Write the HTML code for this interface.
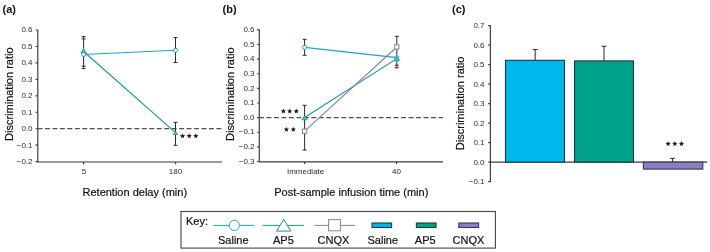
<!DOCTYPE html>
<html><head><meta charset="utf-8">
<style>
html,body{margin:0;padding:0;background:#fff;width:710px;height:252px;overflow:hidden}
svg{display:block;will-change:transform}
text{font-family:"Liberation Sans",sans-serif;fill:#111}
.t{font-size:8px}
.ttl{font-size:11px;stroke:#111;stroke-width:0.2px}
.t text{fill:#2a2a2a}
.pl{font-size:11px;font-weight:bold}
.ax{stroke:#3a3a3a;stroke-width:1.15;fill:none}
.eb{stroke:#2a2a2a;stroke-width:1;fill:none}
.dash{stroke:#505050;stroke-width:1.3;fill:none}
</style></head>
<body>
<svg width="710" height="252" viewBox="0 0 710 252">
<defs><path id="st" d="M0,-2.75L0.72,-0.99L2.615,-0.85L1.18,0.38L1.616,2.225L0,1.24L-1.616,2.225L-1.18,0.38L-2.615,-0.85L-0.72,-0.99Z" fill="#1a1a1a"/></defs>

<text class="pl" x="2.5" y="12.8">(a)</text>
<text class="ttl" transform="translate(12.6,94.2) rotate(-90)" text-anchor="middle">Discrimination ratio</text>
<path class="ax" d="M37.8 29.5V162.3M35.6 30H37.8M35.6 46.45H37.8M35.6 62.9H37.8M35.6 79.35H37.8M35.6 95.8H37.8M35.6 112.25H37.8M35.6 128.7H37.8M35.6 145.15H37.8M35.6 161.6H37.8"/>
<g class="t" text-anchor="end">
<text x="32.5" y="32.4">0.6</text>
<text x="32.5" y="48.85">0.5</text>
<text x="32.5" y="65.3">0.4</text>
<text x="32.5" y="81.75">0.3</text>
<text x="32.5" y="98.2">0.2</text>
<text x="32.5" y="114.65">0.1</text>
<text x="32.5" y="131.1">0.0</text>
<text x="32.5" y="147.55">−0.1</text>
<text x="32.5" y="164">−0.2</text>
</g>
<path class="ax" d="M37.3 162H222M83.6 162V164.2M175.6 162V164.2"/>
<path class="dash" d="M37.6 128.7H222" stroke-dasharray="4.9 2.55"/>
<g class="t" text-anchor="middle"><text x="84" y="173.5">5</text><text x="175.5" y="173.5">180</text></g>
<text class="ttl" x="134.8" y="195.7" text-anchor="middle">Retention delay (min)</text>
<path class="eb" d="M83.6 36.6V68.6M81.6 36.6H85.6M81.6 38.9H85.6M81.6 66.2H85.6M81.6 68.6H85.6"/>
<path class="eb" d="M175.5 37.6V62.6M173.5 37.6H177.5M173.5 62.6H177.5"/>
<path class="eb" d="M175.5 122.3V145.3M173.5 122.3H177.5M173.5 145.3H177.5"/>
<line x1="83.6" y1="54.5" x2="175.5" y2="50.2" stroke="#1fa0d0" stroke-width="1.1"/>
<line x1="83.6" y1="51.5" x2="175.5" y2="132.6" stroke="#139a88" stroke-width="1.1"/>
<polygon points="83.6,48.7 86.3,53.1 80.9,53.1" fill="#48c2b8" stroke="#139a88" stroke-width="0.8"/>
<circle cx="83.6" cy="54.5" r="2" fill="#fff" stroke="#1fa0d0" stroke-width="1"/>
<circle cx="175.5" cy="50.2" r="2" fill="#fff" stroke="#1fa0d0" stroke-width="1"/>
<polygon points="175.5,131.1 177.7,134.7 173.3,134.7" fill="#48c2b8" stroke="#139a88" stroke-width="0.8"/>
<use href="#st" x="182.5" y="136.06"/>
<use href="#st" x="189.2" y="136.06"/>
<use href="#st" x="195.8" y="136.06"/>
<text class="pl" x="222.5" y="12.8">(b)</text>
<text class="ttl" transform="translate(234.4,94.2) rotate(-90)" text-anchor="middle">Discrimination ratio</text>
<path class="ax" d="M259.3 29.32V162.1M257.1 29.82H259.3M257.1 44.45H259.3M257.1 59.08H259.3M257.1 73.71H259.3M257.1 88.34H259.3M257.1 102.97H259.3M257.1 117.6H259.3M257.1 132.23H259.3M257.1 146.86H259.3M257.1 161.49H259.3"/>
<g class="t" text-anchor="end">
<text x="254.5" y="32.02">0.6</text>
<text x="254.5" y="46.65">0.5</text>
<text x="254.5" y="61.28">0.4</text>
<text x="254.5" y="75.91">0.3</text>
<text x="254.5" y="90.54">0.2</text>
<text x="254.5" y="105.17">0.1</text>
<text x="254.5" y="119.8">0.0</text>
<text x="254.5" y="134.43">−0.1</text>
<text x="254.5" y="149.06">−0.2</text>
<text x="254.5" y="163.69">−0.3</text>
</g>
<path class="ax" d="M258.8 161.8H443M304.6 161.8V164M396.6 161.8V164"/>
<path class="dash" d="M259 117.6H443" stroke-dasharray="4.9 2.58"/>
<g class="t" text-anchor="middle"><text x="305.6" y="173.5">Immediate</text><text x="396.4" y="173.5">40</text></g>
<text class="ttl" x="351.3" y="195.7" text-anchor="middle">Post-sample infusion time (min)</text>
<path class="eb" d="M304.6 105.3V150M302.6 105.3H306.6M302.6 150H306.6"/>
<path class="eb" d="M304.6 39.3V55.3M302.6 39.3H306.6M302.6 55.3H306.6"/>
<path class="eb" d="M396.8 36.3V67.8M394.8 36.3H398.8M394.8 65.2H398.8M394.8 67.8H398.8"/>
<line x1="304.6" y1="47.4" x2="396.8" y2="57.6" stroke="#1fa0d0" stroke-width="1.1"/>
<line x1="304.6" y1="117.5" x2="396.8" y2="58.6" stroke="#139a88" stroke-width="1.1"/>
<line x1="304.6" y1="131.2" x2="396.8" y2="47" stroke="#857bb5" stroke-width="1.1"/>
<circle cx="304.6" cy="47.4" r="2" fill="#fff" stroke="#1fa0d0" stroke-width="1"/>
<circle cx="396.8" cy="57.6" r="2" fill="#fff" stroke="#1fa0d0" stroke-width="1"/>
<polygon points="304.6,115.8 307.3,119.8 301.9,119.8" fill="#48c2b8" stroke="#139a88" stroke-width="0.8"/>
<polygon points="396.8,56.2 399.6,60.8 394,60.8" fill="#3bbcd0" stroke="#139a88" stroke-width="0.8"/>
<rect x="302.45" y="129.05" width="4.3" height="4.3" fill="#fff" stroke="#857bb5" stroke-width="1"/>
<rect x="394.65" y="44.85" width="4.3" height="4.3" fill="#fff" stroke="#857bb5" stroke-width="1"/>
<use href="#st" x="283.4" y="111.36"/>
<use href="#st" x="289.7" y="111.36"/>
<use href="#st" x="296.3" y="111.36"/>
<use href="#st" x="286.4" y="129.46"/>
<use href="#st" x="293.3" y="129.46"/>
<text class="pl" x="452" y="12.8">(c)</text>
<text class="ttl" transform="translate(463.6,103.4) rotate(-90)" text-anchor="middle">Discrimination ratio</text>
<path class="ax" d="M490.4 25.1V182.1M488.2 25.6H490.4M488.2 45.1H490.4M488.2 64.6H490.4M488.2 84.1H490.4M488.2 103.6H490.4M488.2 123.1H490.4M488.2 142.6H490.4M488.2 162.1H490.4M488.2 181.6H490.4"/>
<g class="t" text-anchor="end">
<text x="484.5" y="28.2">0.7</text>
<text x="484.5" y="47.7">0.6</text>
<text x="484.5" y="67.2">0.5</text>
<text x="484.5" y="86.7">0.4</text>
<text x="484.5" y="106.2">0.3</text>
<text x="484.5" y="125.7">0.2</text>
<text x="484.5" y="145.2">0.1</text>
<text x="484.5" y="164.7">0.0</text>
<text x="484.5" y="184.2">−0.1</text>
</g>
<path class="ax" d="M490.4 162.1H707.3"/>
<path class="eb" d="M535.2 49.5V60.5M532.8 49.5H537.6"/>
<path class="eb" d="M604 46.3V61M601.6 46.3H606.4"/>
<path class="eb" d="M672.5 158.3V162M670.1 158.3H674.9"/>
<rect x="505.5" y="60.3" width="59" height="101.8" fill="#00b9ec" stroke="#1d3a40" stroke-width="1.1"/>
<rect x="574.5" y="60.9" width="59" height="101.2" fill="#00a28c" stroke="#1d3a40" stroke-width="1.1"/>
<rect x="643.4" y="162.1" width="59.4" height="7.0" fill="#8b7fc0" stroke="#3c3566" stroke-width="1.1"/>
<use href="#st" x="668.1" y="143.76"/>
<use href="#st" x="674.8" y="143.76"/>
<use href="#st" x="681.5" y="143.76"/>
<rect x="181" y="211.5" width="314.4" height="36.6" fill="none" stroke="#444" stroke-width="1.1"/>
<text class="ttl" x="186" y="224.8">Key:</text>
<line x1="213.3" y1="225.4" x2="254.2" y2="225.4" stroke="#1fa0d0" stroke-width="1"/>
<circle cx="234.3" cy="225.4" r="5.1" fill="#fff" stroke="#1fa0d0" stroke-width="1"/>
<line x1="262.5" y1="225.4" x2="304.2" y2="225.4" stroke="#139a88" stroke-width="1"/>
<polygon points="283.7,219.4 290.8,231.1 276.6,231.1" fill="#fff" stroke="#139a88" stroke-width="1"/>
<line x1="314.2" y1="225.4" x2="355" y2="225.4" stroke="#857bb5" stroke-width="1"/>
<rect x="328.6" y="219.6" width="11.8" height="11.2" fill="#fff" stroke="#857bb5" stroke-width="1"/>
<rect x="372" y="223" width="19.6" height="4.5" fill="#00b9ec" stroke="#1d3a40" stroke-width="1.1"/>
<rect x="416.4" y="223" width="19.6" height="4.5" fill="#00a28c" stroke="#1d3a40" stroke-width="1.1"/>
<rect x="458.8" y="223" width="19.8" height="4.5" fill="#8b7fc0" stroke="#3c3566" stroke-width="1.1"/>
<g class="ttl" text-anchor="middle">
<text x="233.3" y="243.6">Saline</text>
<text x="283.4" y="243.6">AP5</text>
<text x="333.4" y="243.6">CNQX</text>
<text x="382.8" y="243.6">Saline</text>
<text x="425.2" y="243.6">AP5</text>
<text x="468.4" y="243.6">CNQX</text>
</g>
</svg>
</body></html>
